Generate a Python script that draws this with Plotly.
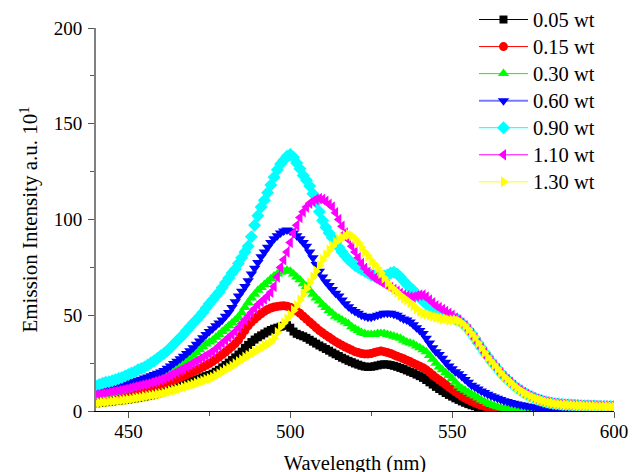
import plotly.graph_objects as go

wavelength = list(range(440, 601))

labels = ["0.05 wt", "0.15 wt", "0.30 wt", "0.60 wt", "0.90 wt", "1.10 wt", "1.30 wt"]

wt005 = [4.0, 4.2, 4.4, 4.6, 4.8, 5.0, 5.2, 5.4, 5.6, 5.8,
         6.0, 6.3, 6.6, 6.9, 7.2, 7.5, 7.8, 8.2, 8.7, 9.2,
         9.8, 10.4, 11.0, 11.6, 12.2, 12.8, 13.4, 14.0, 14.6, 15.2,
         15.8, 16.4, 17.0, 17.6, 18.2, 18.8, 19.5, 20.5, 21.5, 22.8,
         24.0, 25.3, 26.6, 28.0, 29.5, 31.0, 33.0, 34.5, 36.0, 37.3,
         38.5, 39.5, 40.5, 41.5, 42.3, 43.0, 43.5, 44.0, 44.5, 44.8,
         43.5, 41.5, 40.3, 39.6, 39.0, 38.2, 37.2, 36.2, 35.2, 34.2,
         33.3, 32.4, 31.5, 30.5, 29.6, 28.7, 27.8, 27.0, 26.2, 25.5,
         24.8, 24.2, 23.6, 23.2, 23.0, 23.1, 23.4, 23.8, 24.2, 24.4,
         24.3, 24.0, 23.6, 23.1, 22.5, 21.9, 21.2, 20.5, 19.8, 19.0,
         18.2, 17.3, 16.2, 15.0, 13.8, 12.6, 11.5, 10.4, 9.4, 8.4,
         7.5, 6.6, 5.8, 5.0, 4.3, 3.6, 3.0, 2.5, 2.0, 1.6,
         1.3, 1.0, 0.8, 0.6, 0.5, 0.4, 0.3, 0.3, 0.3, 0.3,
         0.3, 0.3, 0.3, 0.3, 0.3, 0.3, 0.3, 0.3, 0.3, 0.3,
         0.3, 0.3, 0.3, 0.3, 0.3, 0.3, 0.3, 0.3, 0.3, 0.3,
         0.3, 0.3, 0.3, 0.3, 0.3, 0.3, 0.3, 0.3, 0.3, 0.3,
         0.3]

wt015 = [7.0, 7.2, 7.5, 7.8, 8.1, 8.4, 8.8, 9.2, 9.6, 10.0,
         10.4, 10.7, 11.0, 11.3, 11.6, 11.9, 12.2, 12.5, 12.9, 13.3,
         13.7, 14.1, 14.7, 15.4, 16.1, 16.8, 17.5, 18.2, 19.0, 19.8,
         20.6, 21.4, 22.2, 23.0, 23.9, 24.8, 25.8, 27.0, 28.2, 29.5,
         30.8, 32.2, 33.6, 35.2, 37.0, 39.5, 42.0, 44.5, 46.5, 48.0,
         49.5, 50.8, 52.0, 53.0, 53.8, 54.3, 54.6, 54.8, 55.0, 54.7,
         54.2, 53.3, 52.2, 51.0, 49.5, 48.0, 46.5, 45.0, 43.5, 42.0,
         40.8, 39.6, 38.5, 37.3, 36.2, 35.2, 34.3, 33.4, 32.6, 31.8,
         31.0, 30.5, 30.0, 29.8, 29.8, 30.0, 30.5, 31.0, 31.3, 31.0,
         30.5, 30.0, 29.3, 28.6, 28.0, 27.3, 26.5, 25.8, 25.0, 24.2,
         23.4, 22.6, 21.5, 20.2, 18.8, 17.4, 16.2, 15.0, 13.8, 12.5,
         11.2, 10.0, 8.8, 7.7, 6.7, 5.8, 5.0, 4.3, 3.6, 3.0,
         2.5, 2.0, 1.6, 1.3, 1.0, 0.8, 0.7, 0.6, 0.5, 0.5,
         0.4, 0.4, 0.4, 0.4, 0.4, 0.4, 0.4, 0.4, 0.4, 0.4,
         0.4, 0.4, 0.4, 0.4, 0.4, 0.4, 0.4, 0.4, 0.4, 0.4,
         0.4, 0.4, 0.4, 0.4, 0.4, 0.4, 0.4, 0.4, 0.4, 0.4,
         0.4]

wt030 = [7.5, 7.8, 8.1, 8.4, 8.8, 9.2, 9.6, 10.0, 10.5, 11.0,
         11.5, 12.0, 12.5, 13.0, 13.5, 14.0, 14.6, 15.2, 15.8, 16.4,
         17.0, 17.8, 18.6, 19.5, 20.5, 21.8, 23.0, 24.5, 26.0, 27.5,
         29.0, 30.5, 32.0, 33.5, 35.0, 36.0, 37.0, 38.5, 40.0, 41.5,
         43.0, 44.5, 46.0, 47.5, 49.0, 51.5, 54.0, 56.5, 59.0, 61.0,
         63.0, 64.5, 66.0, 67.5, 69.0, 70.5, 71.5, 72.5, 73.0, 73.5,
         73.0, 71.5, 70.0, 68.5, 66.5, 65.0, 63.0, 61.0, 59.0, 57.5,
         55.5, 54.0, 52.5, 51.0, 49.5, 48.5, 47.5, 46.5, 45.5, 44.0,
         43.0, 42.0, 41.0, 40.5, 40.0, 40.0, 40.0, 40.5, 40.5, 40.5,
         40.0, 39.5, 39.0, 38.5, 38.0, 37.0, 36.0, 35.5, 35.0, 34.0,
         33.0, 32.0, 31.0, 29.0, 27.0, 25.0, 23.0, 21.5, 20.0, 18.5,
         17.0, 15.0, 13.0, 11.8, 10.8, 9.8, 8.8, 7.8, 6.8, 5.8,
         4.9, 4.1, 3.4, 2.8, 2.2, 1.7, 1.4, 1.1, 0.9, 0.8,
         0.7, 0.6, 0.6, 0.6, 0.5, 0.5, 0.5, 0.5, 0.5, 0.5,
         0.5, 0.5, 0.5, 0.5, 0.5, 0.5, 0.5, 0.5, 0.5, 0.5,
         0.5, 0.5, 0.5, 0.5, 0.5, 0.5, 0.5, 0.5, 0.5, 0.5,
         0.5]

wt060 = [10.5, 11.0, 11.4, 11.8, 12.2, 12.6, 13.0, 13.4, 13.8, 14.2,
         14.6, 15.1, 15.6, 16.1, 16.6, 17.2, 17.8, 18.4, 19.0, 19.7,
         20.4, 21.2, 22.3, 23.5, 24.8, 26.0, 27.3, 28.6, 30.0, 31.5,
         33.0, 34.8, 36.5, 38.2, 40.0, 41.5, 43.0, 44.5, 46.0, 47.5,
         49.5, 51.5, 54.0, 57.0, 60.0, 62.5, 65.0, 68.0, 71.5, 74.5,
         77.5, 80.5, 83.0, 85.5, 88.0, 90.0, 91.5, 93.0, 94.0, 94.5,
         94.0, 93.0, 91.5, 90.0, 88.0, 86.0, 83.0, 80.0, 76.5, 73.0,
         70.0, 67.5, 65.5, 63.5, 61.5, 60.0, 58.0, 56.0, 54.5, 53.0,
         52.0, 51.0, 50.0, 49.5, 49.0, 49.0, 49.5, 50.0, 50.5, 51.0,
         51.0, 51.0, 50.5, 50.0, 49.0, 48.0, 47.5, 46.5, 45.0, 43.5,
         42.0, 40.5, 38.0, 35.5, 33.0, 31.0, 29.5, 27.5, 25.5, 23.5,
         22.0, 20.5, 19.5, 18.0, 16.5, 15.0, 13.5, 12.5, 11.5, 10.5,
         9.6, 8.8, 8.0, 7.3, 6.6, 6.0, 5.4, 4.9, 4.4, 4.0,
         3.7, 3.3, 3.0, 2.6, 2.3, 2.0, 1.7, 1.5, 1.3, 1.2,
         1.1, 1.0, 1.0, 1.0, 1.0, 1.0, 1.0, 1.0, 1.0, 1.0,
         1.0, 1.0, 1.0, 1.0, 1.0, 1.0, 1.0, 1.0, 1.0, 1.0,
         1.0]

wt090 = [13.0, 13.8, 14.5, 15.0, 15.3, 15.8, 16.3, 17.0, 17.5, 18.3,
         19.0, 19.8, 20.5, 21.5, 22.2, 23.0, 24.0, 25.2, 26.3, 27.5,
         28.8, 30.0, 31.5, 33.0, 34.8, 36.5, 38.2, 40.0, 42.0, 44.0,
         45.8, 47.5, 49.5, 51.5, 53.8, 56.0, 58.0, 60.0, 62.0, 64.5,
         67.0, 69.5, 72.0, 74.0, 77.0, 80.0, 83.0, 86.0, 91.0, 97.0,
         102.0, 106.5, 110.0, 114.0, 118.0, 122.0, 126.0, 129.0, 131.0, 133.0,
         134.0, 132.5, 129.5, 126.5, 123.0, 120.5, 117.5, 113.5, 109.0, 104.0,
         99.5, 96.0, 93.0, 90.5, 88.0, 85.5, 83.0, 81.0, 79.0, 77.5,
         76.0, 75.0, 74.0, 73.0, 72.0, 71.0, 70.5, 70.0, 70.0, 70.5,
         71.0, 72.0, 72.5, 71.5, 70.0, 68.0, 66.0, 64.5, 63.0, 61.0,
         59.0, 57.5, 56.0, 54.5, 53.0, 52.0, 51.0, 50.5, 50.0, 49.5,
         49.0, 48.0, 47.5, 46.0, 44.5, 42.5, 40.5, 38.0, 35.5, 33.0,
         30.5, 28.5, 26.0, 24.0, 22.0, 20.0, 18.0, 16.5, 15.0, 13.5,
         12.0, 10.8, 9.7, 8.7, 7.8, 7.0, 6.3, 5.7, 5.2, 4.7,
         4.3, 4.0, 3.8, 3.6, 3.4, 3.3, 3.2, 3.1, 3.0, 2.9,
         2.8, 2.7, 2.7, 2.6, 2.6, 2.5, 2.5, 2.4, 2.4, 2.3,
         2.3]

wt110 = [8.5, 8.8, 9.0, 9.3, 9.6, 10.0, 10.3, 10.7, 11.0, 11.4,
         11.8, 12.2, 12.6, 13.0, 13.4, 13.8, 14.2, 14.7, 15.2, 15.7,
         16.3, 17.0, 17.8, 18.6, 19.5, 20.4, 21.3, 22.2, 23.1, 24.0,
         25.0, 26.0, 27.0, 28.0, 29.0, 30.0, 31.0, 32.5, 34.0, 35.5,
         37.0, 38.5, 40.0, 41.5, 43.5, 45.5, 47.5, 49.5, 51.5, 53.5,
         55.5, 57.0, 58.5, 60.0, 62.0, 65.0, 70.0, 75.0, 79.0, 83.0,
         88.0, 93.0, 97.0, 101.0, 104.0, 106.5, 108.5, 109.5, 110.5, 111.0,
         110.5, 109.5, 108.0, 106.5, 103.5, 100.0, 96.5, 93.0, 89.5, 86.0,
         83.0, 80.0, 77.0, 74.5, 72.5, 71.0, 69.5, 68.5, 67.5, 66.5,
         65.5, 64.5, 63.5, 62.5, 61.5, 60.5, 60.0, 59.5, 59.5, 60.0,
         60.5, 60.5, 59.5, 58.0, 56.5, 55.0, 54.0, 53.0, 52.0, 51.0,
         50.0, 48.5, 47.5, 46.0, 44.5, 42.5, 40.5, 38.0, 35.5, 33.0,
         30.5, 28.0, 26.0, 24.0, 22.0, 20.0, 18.0, 16.5, 15.0, 13.5,
         12.0, 10.8, 9.7, 8.7, 7.8, 7.0, 6.3, 5.7, 5.2, 4.8,
         4.4, 4.1, 3.9, 3.7, 3.5, 3.4, 3.3, 3.2, 3.1, 3.0,
         2.9, 2.9, 2.8, 2.8, 2.7, 2.7, 2.6, 2.6, 2.5, 2.5,
         2.5]

wt130 = [4.0, 4.2, 4.4, 4.6, 4.8, 5.0, 5.2, 5.4, 5.6, 5.8,
         6.0, 6.3, 6.6, 6.9, 7.2, 7.5, 7.8, 8.1, 8.4, 8.7,
         9.0, 9.4, 9.9, 10.4, 10.9, 11.4, 11.9, 12.4, 12.9, 13.4,
         14.0, 14.6, 15.2, 15.8, 16.4, 17.0, 17.6, 18.5, 19.5, 20.5,
         21.5, 22.5, 23.5, 24.6, 25.7, 26.8, 28.0, 29.0, 30.0, 31.0,
         32.0, 33.0, 34.0, 35.0, 36.0, 38.0, 41.0, 44.0, 46.0, 48.0,
         50.0, 52.5, 55.0, 58.0, 61.0, 64.0, 67.0, 70.0, 73.0, 76.0,
         79.0, 81.5, 84.0, 86.0, 88.0, 89.5, 90.5, 91.5, 92.0, 91.5,
         90.0, 88.0, 85.5, 83.0, 81.0, 78.5, 76.5, 74.5, 72.0, 69.5,
         67.0, 65.0, 63.5, 62.0, 60.5, 59.0, 58.0, 56.5, 55.0, 53.5,
         52.0, 51.0, 50.5, 50.0, 49.5, 49.0, 48.5, 48.0, 48.0, 47.5,
         47.5, 47.5, 47.0, 46.0, 44.5, 42.5, 40.5, 38.5, 35.5, 33.0,
         30.5, 28.0, 26.0, 24.0, 22.0, 20.0, 18.0, 16.5, 15.0, 13.5,
         12.0, 10.8, 9.7, 8.7, 7.8, 7.0, 6.3, 5.7, 5.2, 4.7,
         4.3, 4.0, 3.7, 3.5, 3.3, 3.2, 3.1, 3.0, 2.9, 2.8,
         2.7, 2.6, 2.6, 2.5, 2.5, 2.4, 2.4, 2.3, 2.3, 2.2,
         2.2]

series = [wt005, wt015, wt030, wt060, wt090, wt110, wt130]
marker_colors = ["#000000", "#FF0000", "#00FF00", "#0000FF", "#00FFFF", "#FF00FF", "#FFFF00"]
line_colors = ["#000000", "#FF0000", "#00FF00", "#7878FF", "#00FFFF", "#FF00FF", "#FFFF00"]
line_widths = [1, 1, 1, 2, 1, 1, 1]
symbols = ["square", "circle", "triangle-up", "triangle-down", "diamond", "triangle-left", "triangle-right"]
sizes = [8, 9, 10, 10, 10, 10, 10]

fig = go.Figure()
for i, (lab, ys) in enumerate(zip(labels, series)):
    fig.add_trace(go.Scatter(
        x=wavelength, y=ys,
        name="<span style='font-size:20.5px'>" + lab + "</span>",
        mode="lines+markers",
        line=dict(color=line_colors[i], width=line_widths[i]),
        marker=dict(symbol=symbols[i], color=marker_colors[i], size=sizes[i],
                    line=dict(width=0)),
    ))

font_family = "Liberation Serif"
# the page body adds an 8 px offset, margins compensate for it
fig.update_layout(
    width=639, height=472,
    margin=dict(l=88, r=33, t=20, b=69, autoexpand=False),
    paper_bgcolor="white", plot_bgcolor="white",
    font=dict(family=font_family, size=18, color="black"),
    showlegend=True,
    legend=dict(x=0.7297, y=1.0705, xanchor="left", yanchor="top",
                font=dict(family=font_family, size=18.5, color="black"),
                bgcolor="rgba(0,0,0,0)", itemwidth=49, borderwidth=0),
    xaxis=dict(range=[440, 600], tick0=450, dtick=50, showgrid=False, zeroline=False,
               automargin=False,
               showline=True, linecolor="black", linewidth=1.2,
               ticks="outside", ticklen=6, tickcolor="#555", tickwidth=1.2,
               ticklabelstandoff=-3,
               minor=dict(dtick=25, tick0=450, ticks="outside", ticklen=4, tickcolor="#555"),
               tickfont=dict(size=19),
               title=dict(text="Wavelength (nm)", font=dict(size=20.5), standoff=14)),
    yaxis=dict(range=[0, 200], tick0=0, dtick=50, showgrid=False, zeroline=False,
               automargin=False,
               showline=True, linecolor="#808080", linewidth=2,
               ticks="outside", ticklen=6, tickcolor="#555", tickwidth=1.2,
               ticklabelstandoff=2,
               minor=dict(dtick=25, tick0=0, ticks="outside", ticklen=4, tickcolor="#555"),
               tickfont=dict(size=19),
               title=dict(text="Emission Intensity a.u. 10<sup>1</sup>", font=dict(size=21), standoff=10)),
)

fig.write_html("out.html")
